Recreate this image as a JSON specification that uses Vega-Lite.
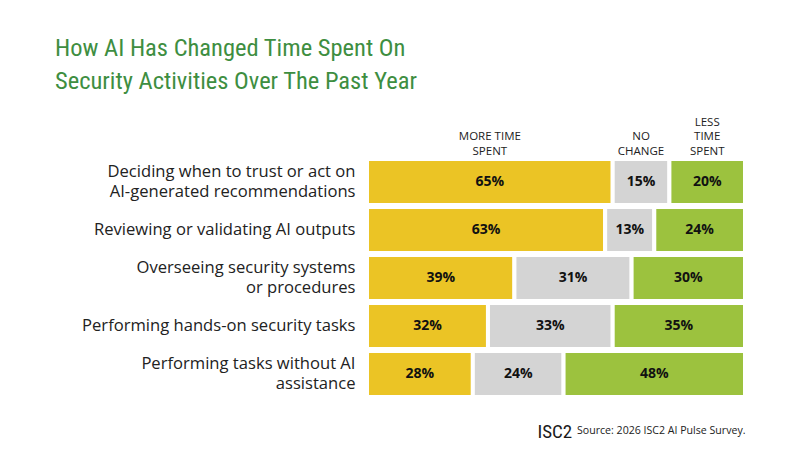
{
  "$schema": "https://vega.github.io/schema/vega-lite/v6.json",
  "autosize": {"type": "none"},
  "width": 378,
  "height": 240,
  "padding": {"left": 367, "top": 158, "right": 55, "bottom": 52},
  "background": "white",
  "title": {
    "text": ["How AI Has Changed Time Spent On", "Security Activities Over The Past Year"],
    "anchor": "start",
    "frame": "group",
    "dx": -312,
    "offset": 22,
    "font": "Liberation Sans Narrow, Roboto Condensed, Open Sans Condensed, DejaVu Sans Condensed",
    "fontSize": 24.5,
    "fontWeight": "normal",
    "lineHeight": 33,
    "color": "#3E8E41"
  },
  "datasets": {
    "bars": [
      {"task": "Deciding when to trust or act on\nAI-generated recommendations", "response": "More time spent", "pct": 65},
      {"task": "Deciding when to trust or act on\nAI-generated recommendations", "response": "No change", "pct": 15},
      {"task": "Deciding when to trust or act on\nAI-generated recommendations", "response": "Less time spent", "pct": 20},
      {"task": "Reviewing or validating AI outputs", "response": "More time spent", "pct": 63},
      {"task": "Reviewing or validating AI outputs", "response": "No change", "pct": 13},
      {"task": "Reviewing or validating AI outputs", "response": "Less time spent", "pct": 24},
      {"task": "Overseeing security systems\nor procedures", "response": "More time spent", "pct": 39},
      {"task": "Overseeing security systems\nor procedures", "response": "No change", "pct": 31},
      {"task": "Overseeing security systems\nor procedures", "response": "Less time spent", "pct": 30},
      {"task": "Performing hands-on security tasks", "response": "More time spent", "pct": 32},
      {"task": "Performing hands-on security tasks", "response": "No change", "pct": 33},
      {"task": "Performing hands-on security tasks", "response": "Less time spent", "pct": 35},
      {"task": "Performing tasks without AI\nassistance", "response": "More time spent", "pct": 28},
      {"task": "Performing tasks without AI\nassistance", "response": "No change", "pct": 24},
      {"task": "Performing tasks without AI\nassistance", "response": "Less time spent", "pct": 48}
    ],
    "headers": [
      {"response": "More time spent", "header": "MORE TIME\nSPENT"},
      {"response": "No change", "header": "NO\nCHANGE"},
      {"response": "Less time spent", "header": "LESS\nTIME\nSPENT"}
    ]
  },
  "data": {"name": "bars"},
  "transform": [
    {"calculate": "indexof(['More time spent','No change','Less time spent'], datum.response)", "as": "ord"},
    {"stack": "pct", "groupby": ["task"], "sort": [{"field": "ord", "order": "ascending"}], "as": ["x0", "x1"]},
    {"calculate": "(datum.x0 + datum.x1) / 2", "as": "mid"},
    {"calculate": "datum.pct + '%'", "as": "label"}
  ],
  "encoding": {
    "y": {
      "field": "task",
      "type": "nominal",
      "sort": null,
      "scale": {"paddingInner": 0.0417, "paddingOuter": 0.0208},
      "axis": {
        "title": "ISC2",
        "titleAngle": 0,
        "titleX": 170,
        "titleY": 279,
        "titleAlign": "left",
        "titleBaseline": "alphabetic",
        "titleFont": "Roboto Condensed, Open Sans",
        "titleFontSize": 19,
        "titleFontWeight": "normal",
        "titleColor": "#1a1a1a",
        "labelExpr": "split(datum.label, '\\n')",
        "labelFont": "Open Sans",
        "labelFontSize": 16.6,
        "labelColor": "#222222",
        "labelLineHeight": 20,
        "labelOffset": {"condition": {"test": "indexof(datum.value, '\\n') >= 0", "value": -10}, "value": 0},
        "labelPadding": 12,
        "labelLimit": 400,
        "ticks": false,
        "domain": false
      }
    }
  },
  "layer": [
    {
      "mark": {"type": "bar", "stroke": "white", "strokeWidth": 4},
      "encoding": {
        "x": {
          "field": "x0",
          "type": "quantitative",
          "scale": {"domain": [0, 100], "nice": false},
          "axis": {
            "title": "Source: 2026 ISC2 AI Pulse Survey.",
            "labels": false,
            "ticks": false,
            "domain": false,
            "grid": false,
            "titleX": 378,
            "titleY": 35,
            "titleAlign": "right",
            "titleAnchor": "end",
            "titleBaseline": "alphabetic",
            "titleFont": "Open Sans",
            "titleFontSize": 10.6,
            "titleFontWeight": "normal",
            "titleColor": "#222222"
          }
        },
        "x2": {"field": "x1"},
        "color": {
          "field": "response",
          "type": "nominal",
          "scale": {
            "domain": ["More time spent", "No change", "Less time spent"],
            "range": ["#EBC425", "#D4D4D4", "#9CC23E"]
          },
          "legend": null
        }
      }
    },
    {
      "mark": {"type": "text", "font": "Open Sans", "fontSize": 14, "fontWeight": "bold", "color": "#111111"},
      "encoding": {
        "x": {"field": "mid", "type": "quantitative"},
        "text": {"field": "label"}
      }
    },
    {
      "transform": [
        {"filter": "indexof(datum.task, 'Deciding') === 0"},
        {"lookup": "response", "from": {"data": {"name": "headers"}, "key": "response", "fields": ["header"]}}
      ],
      "mark": {
        "type": "text",
        "font": "Open Sans",
        "fontSize": 11.5,
        "color": "#222222",
        "baseline": "alphabetic",
        "lineBreak": "\n",
        "lineHeight": 14.5,
        "dy": {"expr": "-27 - 14.5 * (length(split(datum.header, '\\n')) - 1)"}
      },
      "encoding": {
        "x": {"field": "mid", "type": "quantitative"},
        "text": {"field": "header"}
      }
    }
  ]
}
